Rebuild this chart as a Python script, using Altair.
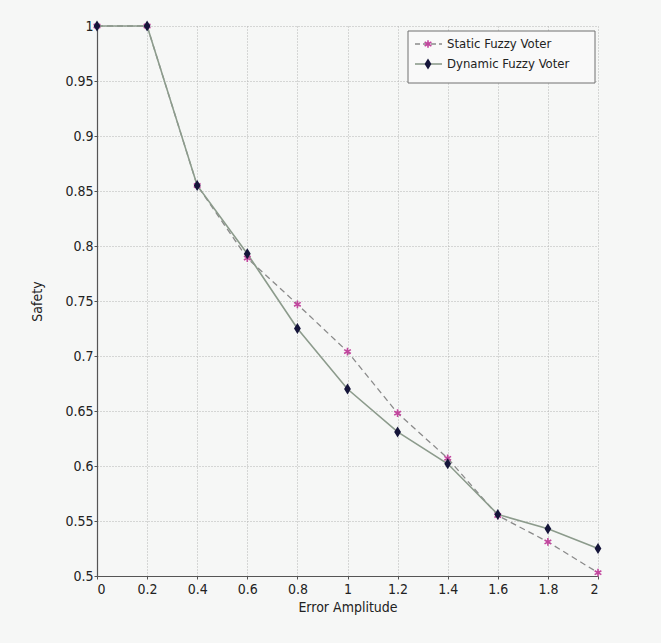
import altair as alt
import pandas as pd

# ---- data ----
x_vals = [0.0, 0.2, 0.4, 0.6, 0.8, 1.0, 1.2, 1.4, 1.6, 1.8, 2.0]
static_vals = [1.0, 1.0, 0.855, 0.789, 0.747, 0.704, 0.648, 0.607, 0.555, 0.531, 0.503]
dynamic_vals = [1.0, 1.0, 0.855, 0.793, 0.725, 0.670, 0.631, 0.602, 0.556, 0.543, 0.525]
series_names = ["Static Fuzzy Voter", "Dynamic Fuzzy Voter"]
x_ticks = [0, 0.2, 0.4, 0.6, 0.8, 1.0, 1.2, 1.4, 1.6, 1.8, 2.0]
y_ticks = [0.5, 0.55, 0.6, 0.65, 0.7, 0.75, 0.8, 0.85, 0.9, 0.95, 1.0]

FONT = "DejaVu Sans Condensed, Liberation Sans Narrow, Liberation Sans, Arial, sans-serif"
BG = "#f6f7f6"

df_static = pd.DataFrame({"amp": x_vals, "safety": static_vals, "series": series_names[0]})
df_dynamic = pd.DataFrame({"amp": x_vals, "safety": dynamic_vals, "series": series_names[1]})
legend_df = pd.DataFrame({"series": series_names})

x_enc = alt.X(
    "amp:Q",
    scale=alt.Scale(domain=[0, 2], nice=False, zero=False),
    axis=alt.Axis(values=x_ticks, format="~g", title="Error Amplitude",
                  labelPadding=3, titlePadding=4),
)
y_enc = alt.Y(
    "safety:Q",
    scale=alt.Scale(domain=[0.5, 1.0], nice=False, zero=False),
    axis=alt.Axis(values=y_ticks, format="~g", title="Safety",
                  labelPadding=1, titlePadding=20),
)

DIAMOND = "M0,-1L0.62,0L0,1L-0.62,0Z"
ASTERISK = "M0,-1L0,1M-0.87,-0.5L0.87,0.5M-0.87,0.5L0.87,-0.5"

static_line = alt.Chart(df_static).mark_line(
    color="#8a8a8a", strokeWidth=1.3, strokeDash=[6, 4]
).encode(x=x_enc, y=y_enc)
dynamic_line = alt.Chart(df_dynamic).mark_line(
    color="#8c9b8c", strokeWidth=1.6
).encode(x=x_enc, y=y_enc)
static_pts = alt.Chart(df_static).mark_point(
    shape=ASTERISK, filled=False, stroke="#c2469e", strokeWidth=1.6, size=60, opacity=1
).encode(x=x_enc, y=y_enc)
dynamic_pts = alt.Chart(df_dynamic).mark_point(
    shape=DIAMOND, filled=True, color="#15153a", size=120, opacity=1
).encode(x=x_enc, y=y_enc)

# ---- legend box (top right, MATLAB style) ----
leg_box = alt.Chart(legend_df).transform_filter(
    alt.datum.series == series_names[0]
).mark_rect(fill="#f9f9f9", stroke="#707070", strokeWidth=1).encode(
    x=alt.value(311), x2=alt.value(498), y=alt.value(5), y2=alt.value(57)
)

leg_parts = [leg_box]
row_y = [18, 38]
for i, name in enumerate(series_names):
    base = alt.Chart(legend_df).transform_filter(alt.datum.series == name)
    if i == 0:
        ln = base.mark_rule(color="#8a8a8a", strokeWidth=1.3, strokeDash=[5, 3])
        pt = base.mark_point(shape=ASTERISK, filled=False, stroke="#c2469e",
                             strokeWidth=1.6, size=60, opacity=1)
    else:
        ln = base.mark_rule(color="#8c9b8c", strokeWidth=1.6)
        pt = base.mark_point(shape=DIAMOND, filled=True, color="#15153a", size=120, opacity=1)
    leg_parts.append(ln.encode(x=alt.value(318), x2=alt.value(345), y=alt.value(row_y[i])))
    leg_parts.append(pt.encode(x=alt.value(331), y=alt.value(row_y[i])))
    leg_parts.append(
        base.mark_text(align="left", baseline="middle", font=FONT, fontSize=13, color="#222")
        .encode(x=alt.value(350), y=alt.value(row_y[i]), text="series:N")
    )

chart = alt.layer(
    static_line, dynamic_line, static_pts, dynamic_pts, *leg_parts
).properties(
    width=501, height=550,
    background=BG,
    padding={"left": 97, "top": 26, "right": 63, "bottom": 67},
    autosize=alt.AutoSizeParams(type="none"),
).configure_view(stroke=None, fill=BG).configure_axis(
    labelFont=FONT, labelFontSize=14, labelColor="#222",
    titleFont=FONT, titleFontSize=14, titleFontWeight="normal", titleColor="#222",
    domainColor="#555", domainWidth=1.2, tickColor="#555", tickSize=3,
    grid=True, gridColor="#b5b5b5", gridDash=[1, 2], gridWidth=1,
)

chart.save("out.html", embed_options={"renderer": "svg", "actions": False})
